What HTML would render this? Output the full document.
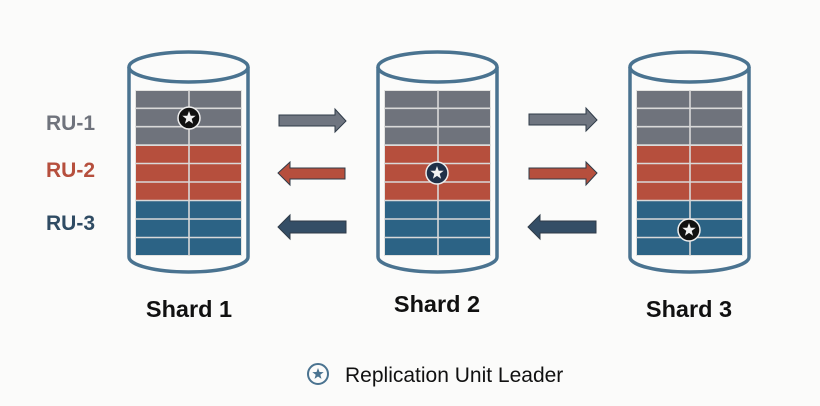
<!DOCTYPE html>
<html><head><style>
html,body{margin:0;padding:0;background:#fbfbfa;}
svg{display:block}
text{font-family:"Liberation Sans",sans-serif;}
</style></head><body>
<svg width="820" height="406" viewBox="0 0 820 406" xmlns="http://www.w3.org/2000/svg">
<defs>
<g id="tbl">
  <rect x="0" y="0" width="107" height="166" fill="#e3e3e1"/>
  <rect x="1" y="1" width="105" height="54" fill="#6f737c"/>
  <rect x="1" y="56" width="105" height="54" fill="#b64f3d"/>
  <rect x="1" y="111" width="105" height="54" fill="#2c6385"/>
  <g stroke="#d9d9d9" stroke-width="1.6">
    <line x1="0" y1="18.3" x2="107" y2="18.3"/><line x1="0" y1="36.7" x2="107" y2="36.7"/>
    <line x1="0" y1="55" x2="107" y2="55"/><line x1="0" y1="73.5" x2="107" y2="73.5"/>
    <line x1="0" y1="92" x2="107" y2="92"/><line x1="0" y1="110.5" x2="107" y2="110.5"/>
    <line x1="0" y1="129" x2="107" y2="129"/><line x1="0" y1="147.5" x2="107" y2="147.5"/>
    <line x1="54" y1="0" x2="54" y2="166"/>
  </g>
</g>
<g id="cyl">
  <path d="M2,17 L2,207 A59.5,15 0 0 0 121,207 L121,17" fill="#fbfbfa" stroke="#4a7390" stroke-width="3.5"/>
  <ellipse cx="61.5" cy="17" rx="59.5" ry="15" fill="#fbfbfa" stroke="#4a7390" stroke-width="3.5"/>
  <use href="#tbl" x="8" y="40"/>
</g>
<path id="star" d="M0,-7 L1.7,-2.3 6.7,-2.2 2.7,0.9 4.1,5.7 0,2.9 -4.1,5.7 -2.7,0.9 -6.7,-2.2 -1.7,-2.3Z" fill="#f2f2f2"/>
</defs>

<use href="#cyl" x="127" y="50"/>
<use href="#cyl" x="376" y="50"/>
<use href="#cyl" x="628" y="50"/>

<g transform="translate(189,118)"><circle r="11" fill="#111" stroke="#eee" stroke-width="1.5"/><use href="#star"/></g>
<g transform="translate(437,173)"><circle r="11" fill="#1f3048" stroke="#eee" stroke-width="1.5"/><use href="#star"/></g>
<g transform="translate(689,230)"><circle r="11" fill="#111" stroke="#eee" stroke-width="1.5"/><use href="#star"/></g>

<g stroke="#2f3b48" stroke-width="1">
  <path d="M279,115 H335 V109 L346,121 L335,132 V126 H279Z" fill="#6f7580"/>
  <path d="M345,168 H290 V162 L278,173 L290,185 V179 H345Z" fill="#b64f3d"/>
  <path d="M346,221 H290 V215 L278,227 L290,239 V233 H346Z" fill="#344e66"/>
  <path d="M529,114 H586 V108 L597,120 L586,131 V125 H529Z" fill="#6f7580"/>
  <path d="M529,168 H586 V162 L597,173 L586,185 V179 H529Z" fill="#b64f3d"/>
  <path d="M596,221 H540 V215 L528,227 L540,239 V233 H596Z" fill="#344e66"/>
</g>

<text x="46" y="130" font-size="21" font-weight="bold" fill="#6f737c">RU-1</text>
<text x="46" y="177" font-size="21" font-weight="bold" fill="#b64f3d">RU-2</text>
<text x="46" y="230" font-size="21" font-weight="bold" fill="#2f4b63">RU-3</text>

<text x="189" y="317" font-size="23.5" font-weight="bold" fill="#111" text-anchor="middle">Shard 1</text>
<text x="437" y="312" font-size="23.5" font-weight="bold" fill="#111" text-anchor="middle">Shard 2</text>
<text x="689" y="317" font-size="23.5" font-weight="bold" fill="#111" text-anchor="middle">Shard 3</text>

<g transform="translate(318,374)"><circle r="10" fill="#fbfbfa" stroke="#4a7390" stroke-width="2"/><path d="M0,-6 L1.5,-2 5.7,-1.9 2.3,0.8 3.5,4.9 0,2.5 -3.5,4.9 -2.3,0.8 -5.7,-1.9 -1.5,-2Z" fill="#4a7390"/></g>
<text x="345" y="382" font-size="21" fill="#111">Replication Unit Leader</text>
</svg>
</body></html>
